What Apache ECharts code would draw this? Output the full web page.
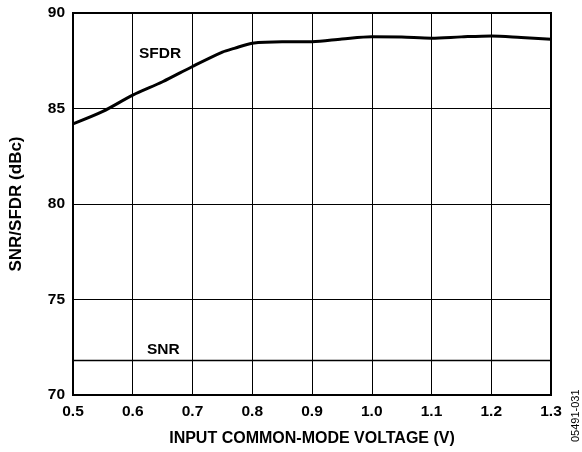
<!DOCTYPE html>
<html>
<head>
<meta charset="utf-8">
<script src="https://cdn.jsdelivr.net/npm/echarts@6/dist/echarts.min.js"></script>
<style>
  html, body { margin: 0; padding: 0; background: #fff; }
  #chart { width: 582px; height: 452px; }
</style>
</head>
<body>
<div id="chart"></div>
<script>
var voltage = [0.5, 0.55, 0.6, 0.65, 0.7, 0.75, 0.77, 0.8, 0.85, 0.9, 0.95, 1.0, 1.05, 1.1, 1.15, 1.2, 1.25, 1.3];
var sfdr = [84.2, 84.85, 85.7, 86.4, 87.2, 87.95, 88.15, 88.42, 88.5, 88.5, 88.64, 88.76, 88.74, 88.68, 88.75, 88.8, 88.72, 88.63];
var snrVoltage = [0.5, 1.3];
var snr = [71.8, 71.8];
var xTicks = { min: 0.5, max: 1.3, interval: 0.1 };
var yTicks = { min: 70, max: 90, interval: 5 };

function pairs(xs, ys) { return xs.map(function (x, i) { return [x, ys[i]]; }); }

var FONT = 'Liberation Sans, Arial, sans-serif';
var chart = echarts.init(document.getElementById('chart'), null, { renderer: 'canvas' });
chart.setOption({
  animation: false,
  backgroundColor: '#fff',
  grid: { left: 71, top: 13, width: 480, height: 383, show: true, borderColor: '#000', borderWidth: 2, backgroundColor: 'transparent' },
  xAxis: {
    type: 'value', min: xTicks.min, max: xTicks.max, interval: xTicks.interval,
    name: 'INPUT COMMON-MODE VOLTAGE (V)', nameLocation: 'middle', nameGap: 36,
    nameTextStyle: { fontFamily: FONT, fontWeight: 'bold', fontSize: 16, color: '#000' },
    axisLine: { show: false }, axisTick: { show: false },
    axisLabel: { margin: 9, fontFamily: FONT, fontWeight: 'bold', fontSize: 15.5, color: '#000',
      formatter: function (v) { return v.toFixed(1); } },
    splitLine: { show: true, lineStyle: { color: '#000', width: 1 } }
  },
  yAxis: {
    type: 'value', min: yTicks.min, max: yTicks.max, interval: yTicks.interval,
    name: 'SNR/SFDR (dBc)', nameLocation: 'middle', nameGap: 48,
    nameTextStyle: { fontFamily: FONT, fontWeight: 'bold', fontSize: 17, color: '#000' },
    axisLine: { show: false }, axisTick: { show: false },
    axisLabel: { margin: 8, fontFamily: FONT, fontWeight: 'bold', fontSize: 15.5, color: '#000' },
    splitLine: { show: true, lineStyle: { color: '#000', width: 1 } }
  },
  series: [
    { name: 'SFDR', type: 'line', data: pairs(voltage, sfdr), smooth: 0.3, showSymbol: false,
      lineStyle: { color: '#000', width: 3 } },
    { name: 'SNR', type: 'line', data: pairs(snrVoltage, snr), showSymbol: false,
      lineStyle: { color: '#000', width: 1.5 } }
  ],
  graphic: [
    { type: 'text', left: 139, top: 46, style: { text: 'SFDR', font: 'bold 15.5px ' + FONT, fill: '#000' } },
    { type: 'text', left: 147, top: 342, style: { text: 'SNR', font: 'bold 15.5px ' + FONT, fill: '#000' } },
    { type: 'text', x: 570, y: 442, rotation: Math.PI / 2, style: { text: '05491-031', font: '11px ' + FONT, fill: '#000' } }
  ]
});
</script>
</body>
</html>
